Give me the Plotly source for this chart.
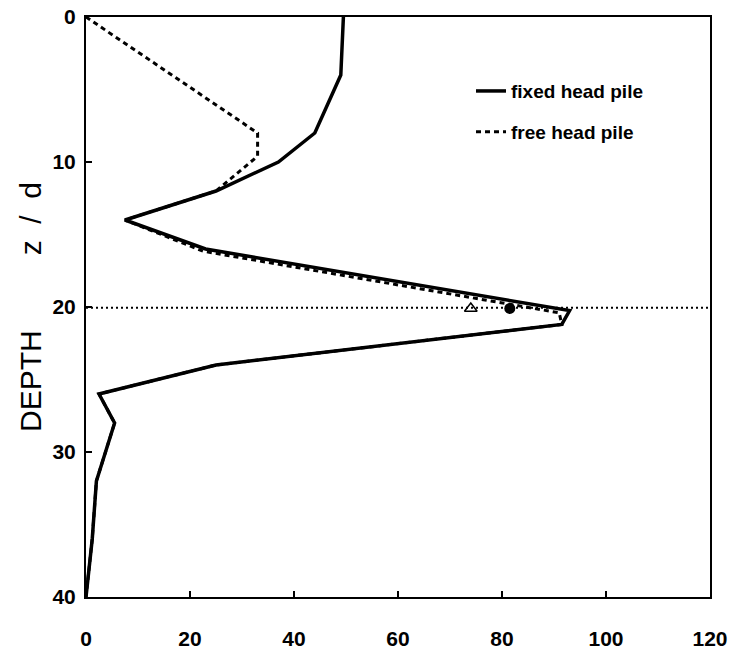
import plotly.graph_objects as go

# ---- data ----
fixed_x = [49.5, 49, 44, 37, 25, 7.5, 23, 93, 91.5, 25, 2.5, 5.5, 2, 1.2, 0]
fixed_z = [0, 4, 8, 10, 12, 14, 16, 20.25, 21.2, 24, 26, 28, 32, 36, 40]

free_x = [0, 33, 33, 26.5, 25, 7.5, 22.5, 91, 91.5, 25, 2.5, 5.5, 2, 1.2, 0]
free_z = [0, 8, 9.6, 11.5, 12, 14, 16.15, 20.4, 21.2, 24, 26, 28, 32, 36, 40]

ref_x = [0, 120]
ref_z = [20.05, 20.05]

tri_x = [74]
tri_z = [20.1]
dot_x = [81.5]
dot_z = [20.1]

x_ticks = [0, 20, 40, 60, 80, 100, 120]
y_ticks = [0, 10, 20, 30, 40]

FONT = "Liberation Sans, Arial"
NB = "\u00a0"

fig = go.Figure()

fig.add_trace(go.Scatter(x=ref_x, y=ref_z, mode="lines", showlegend=False,
                         line=dict(color="black", width=2, dash="2px,3px")))
fig.add_trace(go.Scatter(x=free_x, y=free_z, mode="lines", name="free head pile",
                         legendgroup="free", legendrank=2,
                         line=dict(color="black", width=3, dash="5px,4px")))
fig.add_trace(go.Scatter(x=fixed_x, y=fixed_z, mode="lines", name="fixed head pile",
                         legendgroup="fixed", legendrank=1,
                         line=dict(color="black", width=3.5)))
fig.add_trace(go.Scatter(x=tri_x, y=tri_z, mode="markers", showlegend=False,
                         marker=dict(symbol="triangle-up-open", size=11,
                                     color="black", line=dict(width=1.5))))
fig.add_trace(go.Scatter(x=dot_x, y=dot_z, mode="markers", showlegend=False,
                         marker=dict(symbol="circle", size=11, color="black")))

axis_common = dict(showgrid=False, zeroline=False, showline=True, linecolor="black",
                   linewidth=2, mirror=True, ticks="inside", tickcolor="black",
                   tickwidth=1.5, ticklen=6, automargin=False,
                   tickfont=dict(family=FONT, size=21, color="black", weight="bold"))

ytitle = "DEPTH" + NB * 9 + "z" + NB * 2 + "/" + NB * 2 + "d"

fig.update_layout(
    width=730, height=653,
    margin=dict(l=86, r=20, t=17, b=56),
    paper_bgcolor="white", plot_bgcolor="white",
    xaxis=dict(range=[0, 120], tickvals=x_ticks, ticklabelstandoff=22, **axis_common),
    yaxis=dict(range=[40, 0], tickvals=y_ticks, ticklabelstandoff=4,
               title=dict(text=ytitle,
                          font=dict(family=FONT, size=30, color="black"),
                          standoff=2),
               **axis_common),
    legend=dict(x=0.617, y=0.905, xanchor="left", yanchor="top",
                traceorder="grouped", tracegroupgap=13, itemwidth=30,
                bgcolor="rgba(0,0,0,0)",
                font=dict(family=FONT, size=19, color="black", weight="bold")),
)

fig.write_html("out.html")
